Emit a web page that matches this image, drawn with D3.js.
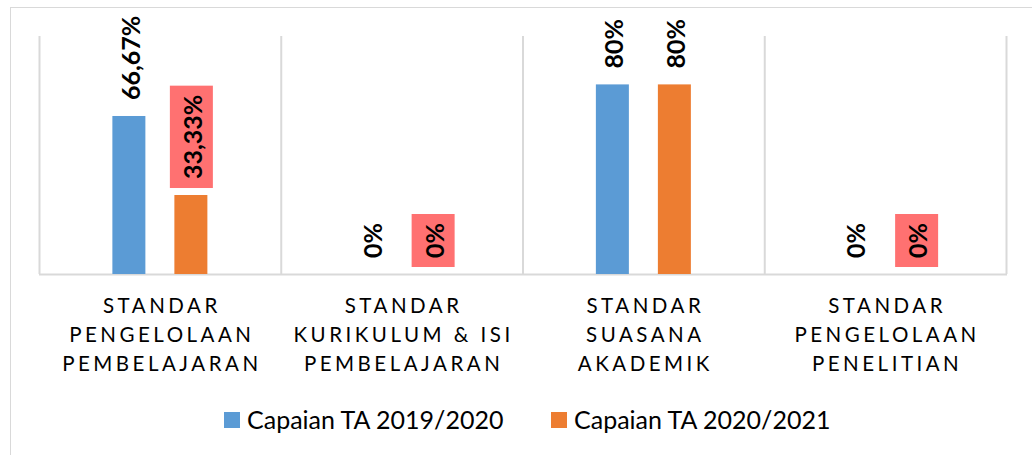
<!DOCTYPE html>
<html>
<head>
<meta charset="utf-8">
<script src="https://cdn.jsdelivr.net/npm/d3@7"></script>
<style>
  body { margin: 0; background: #fff; }
</style>
</head>
<body>
<svg width="1032" height="455"></svg>
<script>
// data
const categories = [
  ['STANDAR', 'PENGELOLAAN', 'PEMBELAJARAN'],
  ['STANDAR', 'KURIKULUM & ISI', 'PEMBELAJARAN'],
  ['STANDAR', 'SUASANA', 'AKADEMIK'],
  ['STANDAR', 'PENGELOLAAN', 'PENELITIAN']
];
const seriesNames = ['Capaian TA 2019/2020', 'Capaian TA 2020/2021'];
const values2019 = [66.67, 0, 80, 0];
const values2020 = [33.33, 0, 80, 0];
const labels2019 = ['66,67%', '0%', '80%', '0%'];
const labels2020 = ['33,33%', '0%', '80%', '0%'];
// which labels of the second series sit in a red box
const boxed2020 = [true, true, false, true];

const colors = ['#5B9BD5', '#ED7D31'];
const gridColor = '#D9D9D9';

const svg = d3.select('svg');

// outer chart border
svg.append('rect')
  .attr('x', 10.5).attr('y', 7.5)
  .attr('width', 1040).attr('height', 470)
  .attr('fill', 'none')
  .attr('stroke', gridColor);

const plotLeft = 39, plotRight = 1006, plotTop = 37, plotBottom = 274;

const x = d3.scaleBand()
  .domain(d3.range(categories.length))
  .range([plotLeft, plotRight]);

const y = d3.scaleLinear()
  .domain([0, 100])
  .range([plotBottom, plotTop]);

const barW = 33;
const offset = 31; // distance of bar centres from the category centre

// vertical separators
const seps = d3.range(categories.length + 1).map(i => i < categories.length ? x(i) : plotRight);
svg.append('g').selectAll('line')
  .data(seps)
  .enter()
  .append('line')
    .attr('x1', d => d + 0.5).attr('x2', d => d + 0.5)
    .attr('y1', y(100) - 1).attr('y2', plotBottom)
    .attr('stroke', gridColor)
    .attr('stroke-width', 2);

// baseline
svg.append('line')
  .attr('x1', plotLeft).attr('x2', plotRight + 1)
  .attr('y1', plotBottom + 0.5).attr('y2', plotBottom + 0.5)
  .attr('stroke', gridColor)
  .attr('stroke-width', 2);

const series = [
  { values: values2019, labels: labels2019, color: colors[0], dx: -offset, boxed: [false, false, false, false] },
  { values: values2020, labels: labels2020, color: colors[1], dx: offset, boxed: boxed2020 }
];

series.forEach(s => {
  const cx = i => x(i) + x.bandwidth() / 2 + s.dx;
  // bars
  svg.append('g').selectAll('rect')
    .data(s.values)
    .enter()
    .append('rect')
      .attr('x', (d, i) => cx(i) - barW / 2)
      .attr('y', d => y(d))
      .attr('width', barW)
      .attr('height', d => plotBottom - y(d))
      .attr('fill', s.color);

  // labels (rotated)
  const g = svg.append('g');
  s.values.forEach((v, i) => {
    const lx = cx(i) + 1, ly = y(v) - 16;
    const t = g.append('text')
      .text(s.labels[i])
      .attr('transform', `translate(${lx},${ly}) rotate(-90)`)
      .attr('text-anchor', 'start')
      .attr('dominant-baseline', 'central')
      .attr('font-family', 'Lato, sans-serif')
      .attr('font-weight', 700)
      .attr('font-size', 25)
      .attr('fill', '#000');
    if (s.boxed[i]) {
      const len = t.node().getComputedTextLength();
      g.insert('rect', function () { return t.node(); })
        .attr('x', lx - 22)
        .attr('y', ly - len - 9)
        .attr('width', 43)
        .attr('height', len + 18)
        .attr('fill', '#FF7171');
    }
  });
});

// category labels
const catG = svg.append('g');
categories.forEach((lines, i) => {
  const t = catG.append('text')
    .attr('text-anchor', 'middle')
    .attr('font-family', 'Lato, sans-serif')
    .attr('font-size', 20.5)
    .attr('letter-spacing', 3.5)
    .attr('fill', '#000');
  lines.forEach((ln, j) => {
    t.append('tspan')
      .attr('x', x(i) + x.bandwidth() / 2 + 2)
      .attr('y', 313 + j * 29)
      .text(ln);
  });
});

// legend
const legend = svg.append('g');
const legendX = [224, 551];
seriesNames.forEach((name, i) => {
  legend.append('rect')
    .attr('x', legendX[i]).attr('y', 412)
    .attr('width', 16).attr('height', 16)
    .attr('fill', colors[i]);
  legend.append('text')
    .attr('x', legendX[i] + 23).attr('y', 429)
    .attr('font-family', 'Lato, sans-serif')
    .attr('font-size', 25)
    .attr('fill', '#000')
    .text(name);
});
</script>
</body>
</html>
